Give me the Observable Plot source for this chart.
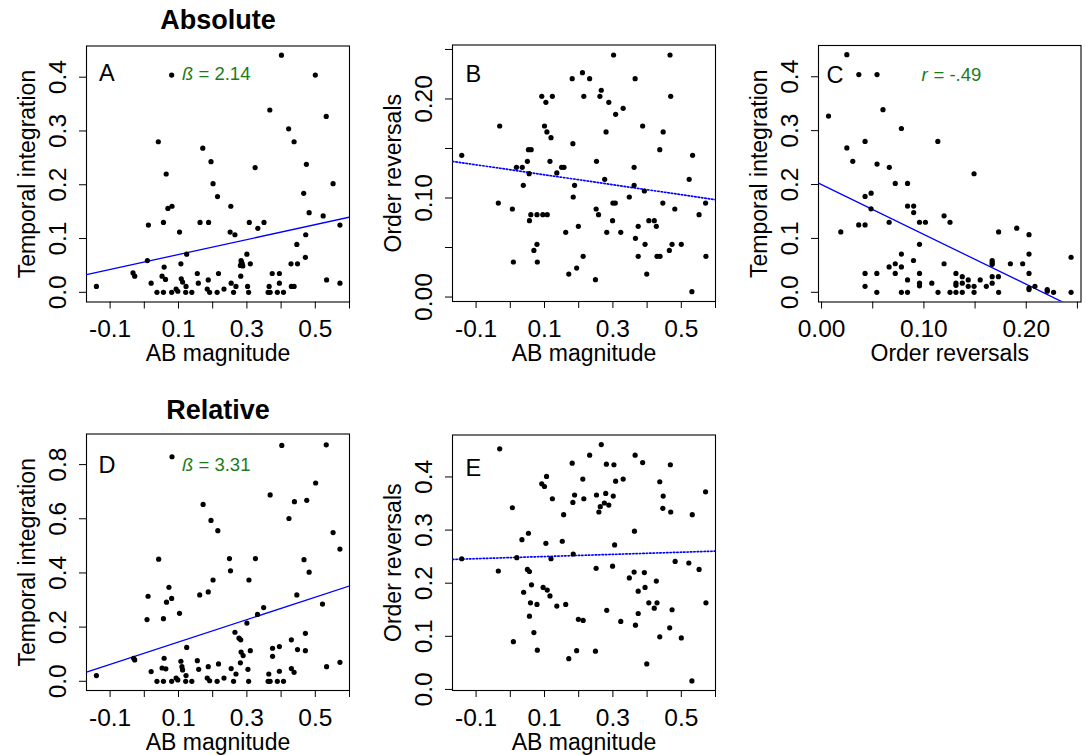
<!DOCTYPE html>
<html>
<head>
<meta charset="utf-8">
<script src="https://cdn.jsdelivr.net/npm/d3@7"></script>
<script src="https://cdn.jsdelivr.net/npm/@observablehq/plot@0.6"></script>
<style>
  html, body { margin: 0; padding: 0; background: white; }
  #chart { position: relative; width: 1086px; height: 755px; background: white; overflow: hidden; }
</style>
</head>
<body>
<div id="chart"></div>
<script>
// ---------- data ----------
const pointsA = [[-0.140,0.011],[-0.033,0.036],[-0.028,0.030],[0.009,0.059],[0.012,0.125],[0.020,0.017],[0.037,0],[0.041,0.280],[0.052,0.030],[0.056,0],[0.056,0.130],[0.058,0.047],[0.062,0.024],[0.064,0.220],[0.069,0.156],[0.080,0],[0.080,0.404],[0.081,0.160],[0.093,0.006],[0.098,0.002],[0.103,0.112],[0.107,0.053],[0.108,0.025],[0.112,0.019],[0.121,0],[0.122,0.011],[0.124,0.071],[0.139,0],[0.155,0.035],[0.158,0.017],[0.163,0.130],[0.171,0.268],[0.184,0.006],[0.187,0.023],[0.188,0.130],[0.191,0],[0.195,0.243],[0.201,0.202],[0.213,0],[0.214,0.178],[0.217,0.035],[0.233,0.006],[0.251,0.112],[0.253,0.160],[0.254,0.017],[0.261,0],[0.265,0.107],[0.268,0.011],[0.281,0.050],[0.282,0.030],[0.283,0.059],[0.284,0.056],[0.286,0.054],[0.288,0.049],[0.300,0.071],[0.302,0.011],[0.305,0],[0.307,0.130],[0.310,0.053],[0.324,0.232],[0.332,0.119],[0.350,0.130],[0.362,0],[0.365,0.011],[0.367,0.339],[0.368,0],[0.374,0.035],[0.389,0],[0.395,0.035],[0.395,0.017],[0.401,0.441],[0.407,0],[0.422,0.304],[0.429,0.053],[0.430,0.011],[0.438,0.011],[0.438,0.280],[0.446,0.089],[0.448,0.053],[0.466,0.184],[0.471,0.065],[0.472,0.107],[0.474,0.238],[0.482,0.148],[0.500,0.404],[0.523,0.142],[0.532,0.327],[0.533,0.023],[0.552,0.202],[0.572,0.125],[0.572,0.017]];

const pointsB = [[-0.142,0.1431],[-0.035,0.0949],[-0.031,0.1727],[0.006,0.0889],[0.009,0.0354],[0.018,0.1310],[0.035,0.1310],[0.038,0.1128],[0.050,0.1370],[0.053,0.1488],[0.055,0.1246],[0.056,0.0771],[0.060,0.0832],[0.061,0.1488],[0.069,0.0471],[0.078,0.0832],[0.078,0.0532],[0.079,0.0354],[0.092,0.2027],[0.095,0.0832],[0.100,0.1727],[0.104,0.1966],[0.107,0.1667],[0.108,0.0832],[0.116,0.1370],[0.119,0.1609],[0.123,0.2027],[0.136,0.1253],[0.150,0.1310],[0.157,0.1310],[0.162,0.0653],[0.171,0.0232],[0.181,0.2205],[0.183,0.1549],[0.184,0.1010],[0.188,0.1128],[0.194,0.0293],[0.199,0.0714],[0.211,0.2266],[0.213,0.0411],[0.215,0.2027],[0.232,0.2205],[0.249,0.0175],[0.251,0.0889],[0.252,0.1370],[0.258,0.0832],[0.262,0.2027],[0.266,0.2088],[0.276,0.1189],[0.280,0.1667],[0.282,0.0653],[0.288,0.1966],[0.299,0.0771],[0.300,0.0949],[0.302,0.2444],[0.307,0.0949],[0.308,0.1845],[0.323,0.0653],[0.330,0.1906],[0.348,0.1010],[0.362,0.1310],[0.362,0.1128],[0.365,0.2205],[0.366,0.0593],[0.374,0.0714],[0.374,0.0411],[0.387,0.1727],[0.392,0.1071],[0.394,0.0532],[0.399,0.0232],[0.405,0.0771],[0.421,0.0771],[0.427,0.0714],[0.429,0.0411],[0.437,0.1488],[0.438,0.0411],[0.446,0.0949],[0.447,0.1667],[0.465,0.0471],[0.467,0.2444],[0.469,0.2027],[0.473,0.0532],[0.481,0.0889],[0.500,0.0532],[0.523,0.1189],[0.531,0.0054],[0.533,0.1431],[0.552,0.0832],[0.571,0.0949],[0.572,0.0411]];

const pointsC = [[0.0068,0.327],[0.0188,0.112],[0.0247,0.441],[0.0247,0.268],[0.0305,0.243],[0.0363,0.125],[0.0364,0.404],[0.0425,0.280],[0.0425,0.178],[0.0425,0.125],[0.0425,0.035],[0.0425,0.011],[0.0484,0.184],[0.0483,0.155],[0.054,0.035],[0.054,0],[0.0542,0.404],[0.0542,0.238],[0.060,0.339],[0.066,0.130],[0.066,0.047],[0.0662,0.232],[0.072,0.202],[0.072,0.053],[0.072,0.035],[0.078,0.304],[0.078,0.071],[0.078,0.047],[0.078,0],[0.084,0.202],[0.084,0.160],[0.084,0.023],[0.084,0],[0.0898,0.059],[0.090,0.160],[0.090,0.148],[0.0957,0.130],[0.0957,0.089],[0.0957,0.035],[0.0957,0.017],[0.0957,0.012],[0.1015,0.130],[0.1077,0.017],[0.1136,0.280],[0.1138,0],[0.1197,0.142],[0.1197,0.053],[0.1255,0.130],[0.1255,0],[0.1313,0.035],[0.1313,0.017],[0.1313,0.013],[0.1313,0],[0.1375,0.029],[0.1375,0.017],[0.1375,0],[0.1433,0.023],[0.1433,0.011],[0.149,0.220],[0.149,0.011],[0.149,0],[0.155,0.023],[0.161,0.011],[0.1667,0.059],[0.1667,0.055],[0.1667,0.052],[0.1667,0.029],[0.1667,0.017],[0.1728,0.029],[0.173,0.112],[0.173,0],[0.1845,0.053],[0.1907,0.119],[0.1965,0.053],[0.2027,0.107],[0.2027,0.071],[0.2027,0.035],[0.2027,0.008],[0.2027,0.005],[0.2085,0.011],[0.2205,0.005],[0.2205,0.002],[0.2267,0],[0.2438,0.065],[0.2438,0]];

const pointsD = [[-0.140,0.021],[-0.031,0.085],[-0.028,0.079],[0.008,0.228],[0.011,0.314],[0.020,0.036],[0.037,0],[0.042,0.451],[0.052,0.049],[0.056,0],[0.056,0.231],[0.058,0.085],[0.063,0.046],[0.065,0.292],[0.072,0.347],[0.080,0],[0.080,0.306],[0.081,0.829],[0.093,0.012],[0.098,0.005],[0.103,0.251],[0.107,0.074],[0.110,0.054],[0.112,0.042],[0.121,0],[0.122,0.021],[0.124,0.125],[0.139,0],[0.155,0.076],[0.159,0.044],[0.162,0.319],[0.172,0.653],[0.184,0.012],[0.187,0.054],[0.187,0.330],[0.191,0.002],[0.195,0.594],[0.201,0.374],[0.213,0],[0.215,0.556],[0.217,0.064],[0.233,0.012],[0.249,0.453],[0.252,0.408],[0.254,0.047],[0.261,0],[0.265,0.181],[0.268,0.027],[0.277,0.159],[0.281,0.068],[0.282,0.153],[0.283,0.108],[0.289,0.095],[0.300,0.215],[0.303,0.044],[0.305,0],[0.306,0.374],[0.310,0.113],[0.325,0.453],[0.331,0.247],[0.349,0.272],[0.362,0],[0.364,0.027],[0.368,0.688],[0.368,0],[0.375,0.122],[0.375,0.092],[0.389,0],[0.395,0.128],[0.395,0.037],[0.402,0.871],[0.407,0],[0.423,0.601],[0.430,0.153],[0.430,0.047],[0.438,0.033],[0.439,0.663],[0.446,0.319],[0.448,0.117],[0.467,0.449],[0.471,0.177],[0.471,0.113],[0.475,0.668],[0.482,0.403],[0.501,0.732],[0.521,0.285],[0.532,0.873],[0.533,0.054],[0.552,0.549],[0.572,0.488],[0.572,0.070]];

const pointsE = [[-0.142,0.246],[-0.035,0.223],[-0.031,0.453],[0.006,0.342],[0.009,0.090],[0.019,0.248],[0.034,0.282],[0.039,0.183],[0.050,0.226],[0.053,0.294],[0.056,0.222],[0.056,0.138],[0.059,0.163],[0.062,0.197],[0.069,0.107],[0.078,0.160],[0.079,0.074],[0.092,0.387],[0.096,0.192],[0.100,0.382],[0.104,0.275],[0.106,0.401],[0.108,0.187],[0.116,0.176],[0.119,0.246],[0.123,0.359],[0.136,0.157],[0.152,0.279],[0.156,0.329],[0.162,0.160],[0.171,0.058],[0.181,0.426],[0.183,0.352],[0.184,0.255],[0.188,0.366],[0.194,0.073],[0.199,0.132],[0.212,0.396],[0.213,0.130],[0.215,0.359],[0.232,0.441],[0.249,0.072],[0.251,0.228],[0.252,0.366],[0.259,0.334],[0.263,0.344],[0.266,0.461],[0.275,0.351],[0.279,0.369],[0.281,0.424],[0.282,0.149],[0.288,0.347],[0.299,0.232],[0.301,0.364],[0.303,0.423],[0.305,0.272],[0.308,0.392],[0.323,0.128],[0.330,0.396],[0.348,0.210],[0.362,0.221],[0.363,0.298],[0.365,0.441],[0.366,0.121],[0.374,0.185],[0.374,0.143],[0.387,0.427],[0.392,0.220],[0.394,0.192],[0.399,0.048],[0.405,0.163],[0.421,0.153],[0.427,0.204],[0.429,0.163],[0.437,0.391],[0.437,0.099],[0.446,0.341],[0.447,0.364],[0.466,0.116],[0.468,0.423],[0.469,0.334],[0.473,0.150],[0.482,0.241],[0.500,0.097],[0.522,0.238],[0.531,0.016],[0.532,0.329],[0.552,0.226],[0.571,0.372],[0.572,0.163]];

// regression lines: [intercept, slope]
const fitA = [0.0564, 0.139];
const fitB = [0.1285, -0.0503];
const fitC = [0.1998, -0.925];
const fitD = [0.104, 0.413];
const fitE = [0.2482, 0.0203];

// tick values and labels
const abTicks = [-0.1, 0, 0.1, 0.2, 0.3, 0.4, 0.5, 0.6];
const abLabels = ["-0.1", "", "0.1", "", "0.3", "", "0.5", ""];
const tiAbsTicks = [0, 0.1, 0.2, 0.3, 0.4];
const tiAbsLabels = ["0.0", "0.1", "0.2", "0.3", "0.4"];
const orAbsTicks = [0, 0.05, 0.1, 0.15, 0.2, 0.25];
const orAbsLabels = ["0.00", "", "0.10", "", "0.20", ""];
const tiRelTicks = [0, 0.2, 0.4, 0.6, 0.8];
const tiRelLabels = ["0.0", "0.2", "0.4", "0.6", "0.8"];
const orRelTicks = [0, 0.1, 0.2, 0.3, 0.4];
const orRelLabels = ["0.0", "0.1", "0.2", "0.3", "0.4"];

const panelLetters = ["A", "B", "C", "D", "E"];
const groupTitles = ["Absolute", "Relative"];
const statLabels = [["ß", "= 2.14"], ["r", "= -.49"], ["ß", "= 3.31"]];
const axisTitles = ["AB magnitude", "Temporal integration", "Order reversals"];

// ---------- layout ----------
const W = 1086, H = 755;
const FONT = '"Liberation Sans", Arial, Helvetica, sans-serif';
const GREEN = "#1b7b1b";
const TICK_FONT = 24.5;

function fmt(ticks, labels) {
  const m = new Map(ticks.map((t, i) => [t, labels[i]]));
  return d => m.has(d) ? m.get(d) : "";
}

function panel(cfg) {
  const [l, t, r, b] = cfg.frame;
  const data = cfg.points.map(([x, y]) => ({x, y}));
  const lineData = cfg.xDomain.map(x => ({x, y: cfg.fit[0] + cfg.fit[1] * x}));
  const yFmt = fmt(...cfg.yTicks);
  const marks = [
    Plot.frame({stroke: "black", strokeWidth: 1.1}),
    Plot.line(lineData, {x: "x", y: "y", stroke: "#0000ff", strokeWidth: cfg.dotted ? 1.7 : 1.3,
      strokeDasharray: cfg.dotted ? "1.4,2" : null, clip: true}),
    Plot.dot(data, {x: "x", y: "y", r: 2.6, fill: "black", stroke: "none"}),
    // rotated y tick labels
    Plot.text(cfg.yTicks[0], {y: d => d, text: yFmt, frameAnchor: "left", dx: -21, rotate: -90,
      textAnchor: "middle", lineAnchor: "bottom", fontSize: TICK_FONT}),
    Plot.text([cfg.letter], {text: d => d, frameAnchor: "top-left", dx: cfg.letterPos[0], dy: cfg.letterPos[1],
      textAnchor: "start", lineAnchor: "bottom", fontSize: 23.5}),
    Plot.text([cfg.yTitle], {text: d => d, frameAnchor: "left", dx: -52, rotate: -90,
      textAnchor: "middle", lineAnchor: "bottom", fontSize: 23}),
    Plot.text([cfg.xTitle], {text: d => d, frameAnchor: "bottom", dy: 59,
      textAnchor: "middle", lineAnchor: "bottom", fontSize: 23})
  ];
  if (cfg.stat) {
    const [sx, sx2, sy] = cfg.statPos;
    marks.push(Plot.text([cfg.stat[0]], {text: d => d, frameAnchor: "top-left", dx: sx, dy: sy,
      textAnchor: "start", lineAnchor: "bottom", fontSize: 18.5, fontStyle: "italic", fill: GREEN}));
    marks.push(Plot.text([cfg.stat[1]], {text: d => d, frameAnchor: "top-left", dx: sx2, dy: sy,
      textAnchor: "start", lineAnchor: "bottom", fontSize: 18.5, fill: GREEN}));
  }
  if (cfg.title) {
    marks.push(Plot.text([cfg.title], {text: d => d, frameAnchor: "top", dy: cfg.titleDy,
      textAnchor: "middle", lineAnchor: "bottom", fontSize: 27, fontWeight: "bold"}));
  }
  return Plot.plot({
    width: W, height: H,
    marginLeft: l, marginTop: t, marginRight: W - r, marginBottom: H - b,
    style: {position: "absolute", left: "0px", top: "0px", background: "none",
      fontFamily: FONT, fontSize: TICK_FONT + "px", color: "black", overflow: "visible"},
    x: {domain: cfg.xDomain, ticks: cfg.xTicks[0], tickFormat: fmt(...cfg.xTicks), tickSize: 7, tickPadding: 11, label: null},
    y: {domain: cfg.yDomain, ticks: cfg.yTicks[0], tickFormat: () => "", tickSize: 7, label: null},
    marks
  });
}

const abDomain = [-0.169, 0.6];
const configs = [
  {letter: panelLetters[0], frame: [86, 45.5, 349, 301.5], points: pointsA, fit: fitA,
   xDomain: abDomain, yDomain: [-0.018, 0.458], xTicks: [abTicks, abLabels], yTicks: [tiAbsTicks, tiAbsLabels],
   xTitle: axisTitles[0], yTitle: axisTitles[1], letterPos: [12.5, 34.5],
   stat: statLabels[0], statPos: [95.5, 112, 33.5], title: groupTitles[0], titleDy: -17.5},
  {letter: panelLetters[1], frame: [452, 44.5, 715, 301], points: pointsB, fit: fitB, dotted: true,
   xDomain: abDomain, yDomain: [-0.0045, 0.2545], xTicks: [abTicks, abLabels], yTicks: [orAbsTicks, orAbsLabels],
   xTitle: axisTitles[0], yTitle: axisTitles[2], letterPos: [13, 37]},
  {letter: panelLetters[2], frame: [818, 45, 1080.5, 301.5], points: pointsC, fit: fitC,
   xDomain: [-0.003, 0.2535], yDomain: [-0.018, 0.458], xTicks: [orAbsTicks, orAbsLabels], yTicks: [tiAbsTicks, tiAbsLabels],
   xTitle: axisTitles[2], yTitle: axisTitles[1], letterPos: [8, 37],
   stat: statLabels[1], statPos: [103, 115, 35]},
  {letter: panelLetters[3], frame: [86, 433.5, 349, 690], points: pointsD, fit: fitD,
   xDomain: abDomain, yDomain: [-0.034, 0.913], xTicks: [abTicks, abLabels], yTicks: [tiRelTicks, tiRelLabels],
   xTitle: axisTitles[0], yTitle: axisTitles[1], letterPos: [12, 39],
   stat: statLabels[2], statPos: [95.5, 112, 37], title: groupTitles[1], titleDy: -15.2},
  {letter: panelLetters[4], frame: [452, 434.5, 715, 690], points: pointsE, fit: fitE, dotted: true,
   xDomain: abDomain, yDomain: [-0.002, 0.479], xTicks: [abTicks, abLabels], yTicks: [orRelTicks, orRelLabels],
   xTitle: axisTitles[0], yTitle: axisTitles[2], letterPos: [13, 40.5]}
];

const chart = document.getElementById("chart");
for (const cfg of configs) chart.appendChild(panel(cfg));
</script>
</body>
</html>
